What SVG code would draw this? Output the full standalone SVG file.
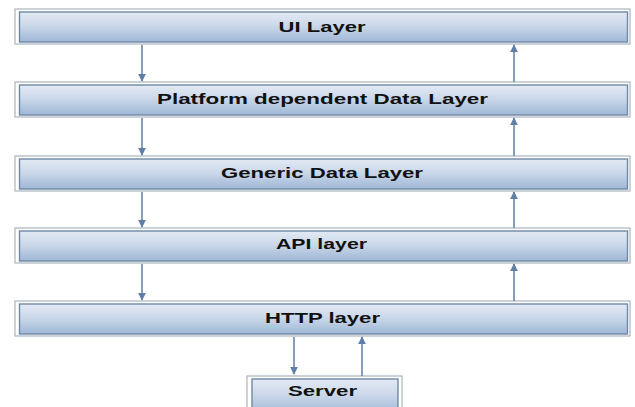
<svg xmlns="http://www.w3.org/2000/svg" width="635" height="407" viewBox="0 0 635 407">
<defs>
<linearGradient id="g" x1="0" y1="0" x2="0" y2="1">
<stop offset="0" stop-color="#e3eaf4"/>
<stop offset="0.45" stop-color="#cbd8ea"/>
<stop offset="1" stop-color="#9fb7d6"/>
</linearGradient>
<marker id="ah" viewBox="0 0 10 10" refX="9" refY="5" markerWidth="8" markerHeight="8" markerUnits="userSpaceOnUse" orient="auto">
<path d="M0,0 L10,5 L0,10 z" fill="#5f7fa8"/>
</marker>
<style>
.outer{fill:#ffffff;stroke:#a8b4c0;stroke-width:1.2}
.inner{fill:url(#g);stroke:#6f88a4;stroke-width:1.4}
.lbl{font-family:"Liberation Sans",Arial,sans-serif;font-weight:bold;font-size:14px;fill:#111;text-anchor:middle}
.conn{stroke:#6a86a8;stroke-width:1.6;fill:none;marker-end:url(#ah)}
</style>
</defs>
<rect width="635" height="407" fill="#ffffff"/>
<g id="ui-layer">
<rect class="outer" x="15" y="9" width="615" height="35"/>
<rect class="inner" x="19.5" y="12" width="608" height="30"/>
<text class="lbl" x="322" y="32" textLength="87" lengthAdjust="spacingAndGlyphs">UI Layer</text>
</g>
<g id="platform-layer">
<rect class="outer" x="15" y="82" width="615" height="35"/>
<rect class="inner" x="19.5" y="85" width="608" height="30"/>
<text class="lbl" x="322.5" y="104" textLength="331" lengthAdjust="spacingAndGlyphs">Platform dependent Data Layer</text>
</g>
<g id="generic-layer">
<rect class="outer" x="15" y="156" width="615" height="35"/>
<rect class="inner" x="19.5" y="159" width="608" height="30"/>
<text class="lbl" x="322" y="177.5" textLength="202" lengthAdjust="spacingAndGlyphs">Generic Data Layer</text>
</g>
<g id="api-layer">
<rect class="outer" x="15" y="228" width="615" height="35"/>
<rect class="inner" x="19.5" y="231" width="608" height="30"/>
<text class="lbl" x="321.5" y="249" textLength="91" lengthAdjust="spacingAndGlyphs">API layer</text>
</g>
<g id="http-layer">
<rect class="outer" x="15" y="301" width="615" height="35"/>
<rect class="inner" x="19.5" y="304" width="608" height="30"/>
<text class="lbl" x="322.5" y="323" textLength="115" lengthAdjust="spacingAndGlyphs">HTTP layer</text>
</g>
<g id="server">
<rect class="outer" x="247" y="376" width="155" height="40"/>
<rect class="inner" x="252" y="379" width="146" height="35"/>
<text class="lbl" x="322.5" y="396" textLength="69" lengthAdjust="spacingAndGlyphs">Server</text>
</g>
<g id="connectors">
<line class="conn" x1="142" y1="45" x2="142" y2="81"/>
<line class="conn" x1="142" y1="118" x2="142" y2="155"/>
<line class="conn" x1="142" y1="192" x2="142" y2="227"/>
<line class="conn" x1="142" y1="264" x2="142" y2="300"/>
<line class="conn" x1="514" y1="82" x2="514" y2="45"/>
<line class="conn" x1="514" y1="156" x2="514" y2="118"/>
<line class="conn" x1="514" y1="228" x2="514" y2="192"/>
<line class="conn" x1="514" y1="301" x2="514" y2="264"/>
<line class="conn" x1="294" y1="337" x2="294" y2="374"/>
<line class="conn" x1="362" y1="376" x2="362" y2="337"/>
</g>
</svg>
